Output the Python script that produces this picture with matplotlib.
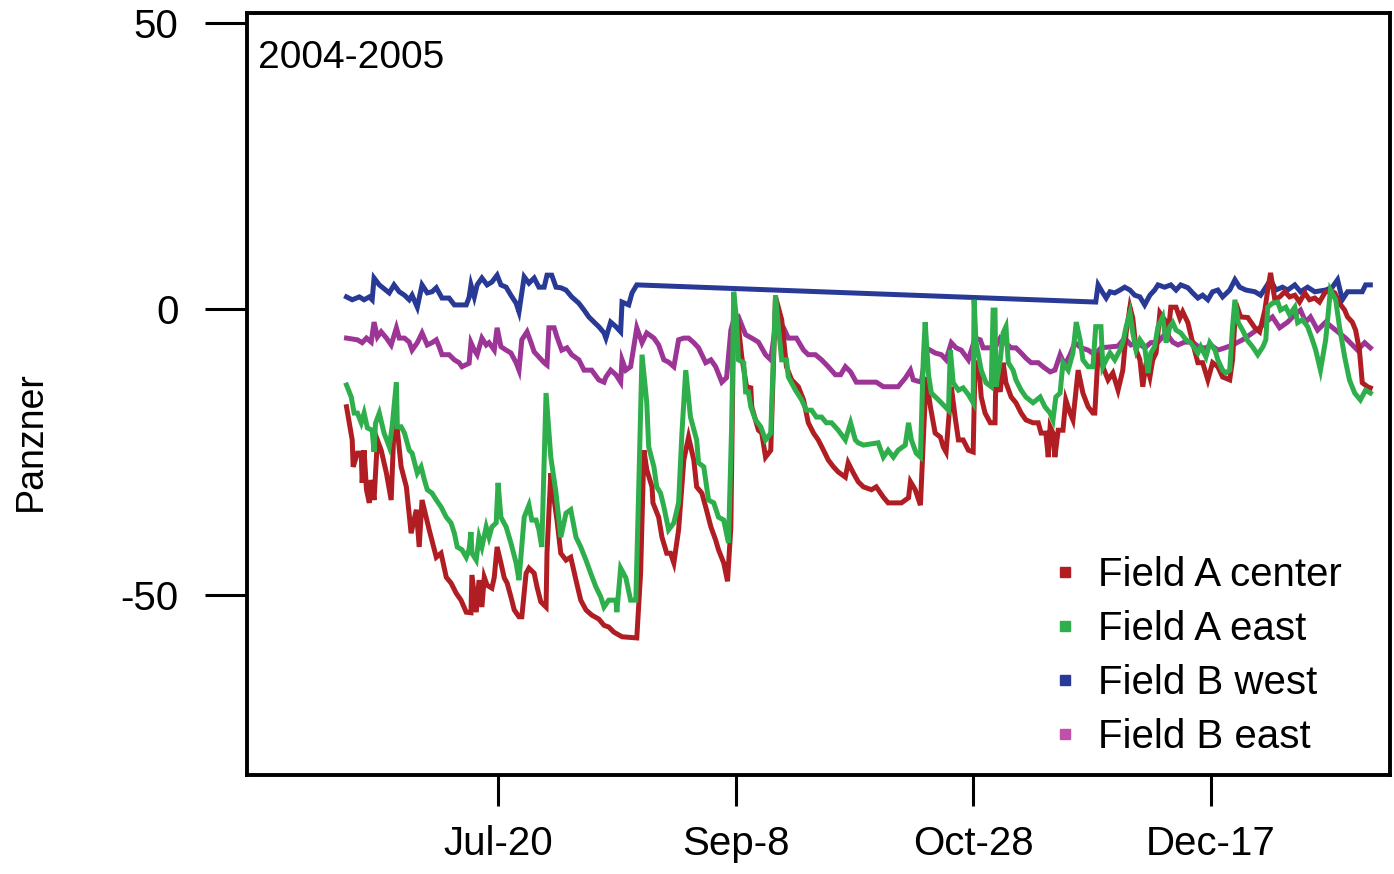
import numpy as np
import matplotlib
matplotlib.use("Agg")
import matplotlib.pyplot as plt
from matplotlib.lines import Line2D

plt.rcParams['font.family'] = ['Liberation Sans', 'DejaVu Sans']

# days counted from Jul-20 (2004)
tick_days = [0, 50, 100, 150]
tick_labels = ["Jul-20", "Sep-8", "Oct-28", "Dec-17"]
y_ticks = [-50, 0, 50]
names = ["Field A center", "Field A east", "Field B west", "Field B east"]
colors = ["#B01E23", "#2EAF4B", "#283A96", "#9C3596"]
legend_colors = ["#B01E23", "#2EAF4B", "#283A96", "#C050A8"]

field_a_center = [
    (-31.9, -17.1), (-30.7, -22.9), (-30.5, -27.6), (-29.6, -25.2), (-28.8, -25.2), (-28.6, -30.4),
    (-28.2, -24.7), (-27.7, -31.6), (-27.1, -33.9), (-26.7, -29.9), (-26.1, -33.4), (-25.4, -22.9),
    (-24.6, -24.7), (-23.5, -28.7), (-22.5, -33.4), (-21.9, -20.6), (-21.2, -21.2), (-20.4, -27.6),
    (-19.3, -31.1), (-18.3, -39.2), (-17.2, -35.1), (-16.6, -41.6), (-16.0, -33.4), (-14.5, -38.6),
    (-13.0, -43.4), (-12.0, -42.7), (-10.9, -46.9), (-9.9, -47.9), (-8.8, -49.7), (-7.8, -50.9),
    (-6.7, -53.0), (-5.7, -53.1), (-5.5, -46.5), (-4.6, -53.0), (-4.0, -47.4), (-3.4, -52.1),
    (-2.9, -46.9), (-2.3, -48.3), (-1.3, -48.8), (-0.8, -46.9), (-0.2, -41.6), (0.6, -44.4),
    (1.3, -47.0), (1.9, -47.9), (2.7, -50.3), (3.4, -52.6), (4.4, -53.8), (5.0, -53.8),
    (5.9, -46.2), (6.5, -45.3), (7.6, -46.2), (8.2, -48.6), (9.0, -51.2), (10.1, -52.1),
    (10.3, -42.7), (11.1, -28.7), (11.8, -33.4), (12.4, -36.9), (13.2, -42.7), (14.3, -43.9),
    (15.3, -43.4), (16.4, -47.4), (17.4, -50.9), (18.5, -52.6), (19.7, -53.5), (21.2, -54.2),
    (22.3, -55.3), (23.3, -55.6), (24.4, -56.5), (26.1, -57.3), (29.2, -57.5), (30.0, -46.2),
    (30.7, -24.7), (31.3, -28.1), (32.4, -31.1), (32.6, -33.9), (33.8, -36.4), (34.5, -39.9),
    (35.5, -42.7), (36.3, -42.7), (37.0, -44.4), (38.0, -38.6), (39.1, -26.4), (40.1, -22.4),
    (41.2, -26.4), (41.8, -31.1), (42.9, -32.2), (43.7, -34.6), (44.8, -38.1), (45.8, -40.4),
    (46.4, -42.1), (47.5, -44.4), (48.3, -47.6), (49.0, -38.1), (49.6, 0.3), (50.6, -3.1),
    (51.3, -8.4), (52.3, -13.6), (53.2, -13.8), (53.4, -17.1), (54.8, -21.2), (55.5, -21.7),
    (56.3, -25.9), (57.4, -24.7), (58.4, 2.1), (59.7, -1.9), (60.7, -10.1), (61.8, -12.4),
    (63.2, -13.6), (64.3, -15.9), (65.3, -19.9), (66.4, -21.7), (67.4, -22.9), (68.5, -24.7),
    (69.5, -26.4), (70.6, -27.6), (71.6, -28.5), (73.1, -29.4), (73.7, -26.9), (74.8, -28.7),
    (75.8, -30.2), (76.9, -31.1), (78.6, -31.6), (79.6, -31.1), (81.1, -32.9), (82.1, -33.9),
    (84.9, -33.9), (86.4, -33.0), (86.8, -30.2), (87.8, -31.6), (88.9, -34.3), (90.1, -11.9),
    (91.0, -17.1), (92.0, -21.7), (93.1, -22.4), (93.7, -24.1), (94.3, -25.0), (95.4, -13.6),
    (96.2, -18.9), (96.9, -22.9), (97.9, -22.9), (99.0, -24.7), (100.0, -25.0), (100.4, -9.4),
    (101.1, -9.4), (101.7, -15.4), (102.5, -18.2), (103.6, -19.9), (104.6, -19.9), (104.8, -11.2),
    (105.7, -14.5), (106.3, -9.4), (106.9, -12.9), (108.0, -15.4), (109.0, -16.4), (110.1, -18.2),
    (111.1, -19.4), (112.6, -19.9), (113.7, -19.9), (114.3, -21.7), (115.3, -21.7), (115.8, -25.9),
    (116.2, -20.6), (116.8, -21.7), (117.2, -25.9), (117.9, -21.2), (118.9, -21.2), (119.5, -15.9),
    (120.4, -18.2), (121.0, -19.4), (122.1, -10.7), (123.1, -14.7), (124.2, -17.1), (125.2, -18.2),
    (125.6, -18.2), (126.3, -7.7), (127.3, -10.1), (128.4, -12.4), (129.4, -11.2), (130.5, -14.2),
    (131.5, -10.7), (132.2, -4.2), (133.0, 0.3), (133.6, -1.6), (134.3, -7.2), (135.1, -8.9),
    (135.7, -13.6), (136.4, -9.4), (137.2, -11.9), (137.8, -8.9), (138.5, -7.7), (139.3, -0.7),
    (140.3, -1.9), (141.0, -4.9), (141.6, 0.3), (142.7, 0.3), (143.5, -1.6), (144.1, -0.5),
    (145.2, -2.4), (146.2, -5.9), (147.3, -9.4), (148.3, -9.4), (149.4, -12.4), (150.4, -9.4),
    (151.5, -10.1), (152.5, -11.9), (154.0, -12.4), (154.6, -8.9), (155.3, 1.0), (156.3, -1.4),
    (157.8, -1.5), (159.3, -3.3), (160.3, -4.0), (161.4, -0.2), (162.0, 3.3), (162.6, 6.3),
    (163.5, 1.6), (164.5, 2.1), (165.6, 3.0), (166.6, 2.1), (167.7, 2.4), (168.7, 1.2),
    (169.8, 2.8), (170.8, 1.6), (171.9, 1.9), (172.9, 1.2), (174.0, 2.8), (175.0, 3.3),
    (176.1, 2.8), (177.1, 1.0), (178.2, -0.2), (178.8, -1.4), (179.8, -2.3), (180.5, -3.7),
    (181.3, -7.2), (181.9, -12.9), (183.0, -13.6), (183.6, -13.8),
]

field_a_east = [
    (-31.9, -13.3), (-30.9, -15.4), (-30.3, -18.2), (-29.6, -18.2), (-28.8, -19.9), (-28.2, -18.2),
    (-27.5, -20.8), (-26.5, -21.2), (-26.1, -25.0), (-25.8, -20.0), (-25.0, -18.2), (-24.0, -21.7),
    (-22.9, -24.1), (-22.3, -20.6), (-21.4, -12.8), (-21.2, -20.6), (-20.4, -20.6), (-19.7, -21.7),
    (-18.7, -24.7), (-18.1, -25.2), (-17.0, -28.7), (-16.2, -27.6), (-15.5, -29.9), (-14.9, -31.6),
    (-13.9, -32.2), (-13.0, -33.4), (-12.0, -34.6), (-10.9, -36.4), (-9.9, -37.4), (-9.2, -39.2),
    (-8.6, -41.6), (-7.6, -42.1), (-6.7, -43.4), (-6.1, -42.0), (-5.7, -39.0), (-5.5, -42.7),
    (-4.6, -43.9), (-4.0, -39.9), (-3.4, -41.6), (-2.5, -38.1), (-1.9, -39.9), (-1.3, -38.1),
    (-0.4, -37.4), (0.0, -30.4), (0.6, -36.4), (1.7, -38.1), (2.7, -40.9), (3.8, -44.4),
    (4.4, -47.4), (5.5, -36.4), (6.5, -34.3), (7.1, -36.9), (8.0, -36.9), (8.6, -38.6),
    (9.2, -41.6), (10.1, -14.7), (11.1, -25.9), (12.2, -32.2), (13.2, -39.9), (14.3, -35.7),
    (15.3, -35.1), (16.4, -39.9), (17.4, -41.6), (18.5, -43.9), (19.5, -46.2), (20.6, -48.6),
    (21.6, -50.3), (22.3, -52.1), (23.3, -50.9), (24.8, -50.9), (25.0, -53.0), (25.8, -45.3),
    (26.9, -47.0), (27.9, -50.9), (29.0, -50.9), (29.6, -31.6), (30.3, -8.0), (31.3, -16.4),
    (31.7, -24.1), (32.8, -27.6), (33.4, -31.1), (34.2, -32.2), (34.9, -34.6), (35.9, -38.6),
    (37.0, -37.4), (38.0, -33.9), (38.7, -21.7), (39.5, -10.7), (40.5, -18.9), (41.8, -22.9),
    (42.2, -26.9), (43.3, -27.6), (43.7, -29.9), (44.3, -33.4), (45.4, -33.9), (46.4, -36.4),
    (47.5, -36.9), (48.5, -40.9), (49.2, -19.4), (49.6, 3.0), (50.2, -1.9), (50.6, -8.9),
    (51.7, -9.4), (52.1, -14.5), (52.7, -14.5), (53.2, -17.1), (54.2, -19.4), (55.3, -20.6),
    (56.3, -22.9), (57.4, -21.7), (58.4, 2.4), (59.0, -3.1), (59.7, -8.9), (60.7, -8.9),
    (61.1, -11.9), (62.6, -14.2), (63.9, -15.9), (64.9, -17.7), (66.0, -17.7), (67.0, -18.9),
    (68.1, -18.9), (69.1, -19.9), (70.2, -19.9), (71.6, -21.2), (73.1, -22.9), (74.2, -19.9),
    (75.2, -22.9), (75.8, -23.4), (76.9, -23.8), (80.0, -23.4), (81.1, -25.9), (82.1, -24.7),
    (83.2, -25.9), (84.2, -24.7), (85.7, -23.8), (86.4, -19.9), (87.0, -22.9), (88.0, -25.2),
    (88.9, -25.9), (89.5, -8.9), (89.9, -2.3), (90.6, -11.5), (91.2, -14.7), (92.7, -15.9),
    (94.1, -17.1), (94.8, -17.7), (95.2, -7.2), (95.8, -12.9), (96.9, -14.2), (97.9, -13.8),
    (99.0, -15.0), (100.0, -16.4), (100.2, 1.6), (100.6, -5.9), (101.7, -10.7), (102.7, -12.9),
    (103.8, -13.6), (104.2, -0.2), (104.6, -0.2), (104.8, -13.6), (105.7, -8.9), (106.3, -4.2),
    (106.9, -3.1), (107.4, -9.4), (108.4, -10.7), (109.0, -12.4), (110.1, -14.2), (111.1, -15.4),
    (112.6, -16.4), (114.1, -15.4), (115.1, -17.1), (116.2, -18.2), (116.8, -19.4), (117.4, -15.4),
    (118.3, -14.7), (118.9, -9.4), (120.0, -10.7), (121.0, -7.7), (121.7, -2.3), (122.5, -5.4),
    (123.1, -8.9), (124.2, -10.1), (125.2, -10.1), (125.8, -3.1), (126.9, -3.1), (127.3, -10.1),
    (128.0, -8.9), (128.8, -7.7), (129.8, -8.9), (130.9, -7.2), (131.5, -5.9), (132.2, -3.1),
    (133.0, -0.7), (133.6, -4.2), (134.3, -7.2), (135.1, -5.4), (136.1, -6.6), (136.8, -11.2),
    (137.4, -7.7), (138.2, -6.6), (138.9, -3.1), (139.9, -1.4), (140.6, -5.9), (141.4, -3.1),
    (142.0, -2.4), (142.7, -3.7), (143.7, -4.2), (144.8, -5.4), (145.8, -5.9), (147.3, -7.7),
    (147.9, -6.6), (149.0, -8.4), (149.8, -5.9), (150.9, -7.2), (151.5, -8.9), (152.5, -10.7),
    (153.2, -11.2), (154.0, -10.7), (154.6, -3.1), (155.1, 1.6), (155.8, -2.4), (156.7, -3.7),
    (157.8, -5.6), (158.8, -6.6), (159.9, -8.0), (161.0, -6.6), (161.6, -5.4), (162.0, 0.3),
    (163.0, 1.0), (164.1, 1.2), (164.7, -0.2), (165.8, 0.3), (166.6, -1.0), (167.7, 0.3),
    (168.3, -2.4), (169.3, -1.9), (170.4, -3.1), (171.4, -5.4), (172.1, -7.2), (173.1, -10.7),
    (174.2, -5.4), (175.2, 3.3), (176.3, 1.6), (177.1, -3.1), (178.2, -8.4), (179.2, -12.4),
    (180.3, -14.7), (181.5, -15.9), (182.6, -14.2), (183.6, -14.7),
]

field_b_west = [
    (-31.9, 2.1), (-30.7, 1.6), (-29.2, 2.1), (-28.2, 1.6), (-27.1, 2.1), (-26.5, 1.6),
    (-26.1, 5.4), (-25.0, 4.2), (-22.9, 2.8), (-21.9, 4.2), (-20.8, 3.0), (-19.7, 2.4),
    (-18.7, 1.6), (-18.1, 2.4), (-17.0, 0.3), (-16.0, 4.2), (-14.9, 2.8), (-13.9, 3.0),
    (-13.0, 3.7), (-12.4, 2.8), (-11.8, 1.9), (-10.3, 1.9), (-9.2, 0.7), (-6.7, 0.7),
    (-6.1, 2.0), (-5.7, 4.2), (-5.0, 2.1), (-4.4, 4.2), (-3.4, 5.4), (-2.3, 4.2),
    (-1.3, 4.7), (-0.2, 5.9), (0.6, 4.2), (1.7, 3.8), (2.7, 2.4), (3.8, 1.0),
    (4.4, -0.5), (5.5, 5.6), (6.5, 4.5), (7.6, 5.4), (8.6, 3.8), (9.7, 3.8),
    (10.3, 5.9), (11.3, 5.9), (12.2, 3.8), (13.2, 3.7), (14.3, 3.3), (15.5, 2.1),
    (17.0, 1.0), (18.1, -0.2), (19.1, -1.4), (20.2, -2.3), (21.2, -3.1), (22.3, -4.2),
    (22.7, -5.1), (23.7, -2.3), (24.8, -3.1), (25.8, -4.0), (26.1, 1.2), (27.5, 0.7),
    (28.2, 2.8), (29.2, 4.2), (125.8, 1.2), (126.3, 4.2), (127.3, 2.8), (128.0, 1.9),
    (128.8, 3.0), (129.8, 2.8), (130.9, 3.3), (131.9, 3.8), (133.0, 3.3), (134.0, 2.4),
    (135.1, 2.1), (136.1, 0.7), (137.2, 2.4), (138.2, 3.3), (138.9, 4.2), (140.3, 3.8),
    (141.6, 4.2), (142.7, 3.3), (143.7, 4.2), (145.2, 3.7), (146.2, 2.8), (147.3, 1.9),
    (148.3, 2.4), (149.4, 1.6), (150.4, 3.0), (151.5, 3.3), (152.5, 2.1), (154.0, 3.3),
    (155.1, 5.1), (156.1, 3.8), (157.4, 3.3), (159.3, 3.0), (160.5, 2.4), (161.6, 3.8),
    (162.6, 5.1), (163.7, 3.3), (165.1, 3.8), (166.2, 3.3), (167.7, 4.2), (168.9, 3.0),
    (170.4, 3.8), (171.9, 3.0), (174.2, 3.3), (175.6, 3.8), (176.7, 5.1), (177.7, 1.6),
    (178.8, 3.0), (181.9, 3.0), (182.6, 4.2), (183.6, 4.2),
]

field_b_east = [
    (-31.9, -5.1), (-29.6, -5.4), (-28.6, -5.9), (-27.7, -5.1), (-26.7, -5.8), (-26.1, -2.3),
    (-25.4, -4.9), (-24.6, -4.0), (-23.5, -5.1), (-22.5, -6.3), (-21.4, -3.3), (-20.8, -5.1),
    (-19.7, -5.1), (-18.7, -5.8), (-18.1, -7.2), (-17.0, -5.9), (-16.0, -4.2), (-14.9, -6.3),
    (-13.9, -5.9), (-13.0, -5.4), (-12.4, -6.6), (-11.8, -8.0), (-10.3, -8.0), (-9.2, -8.9),
    (-8.2, -9.4), (-7.6, -10.1), (-6.1, -9.5), (-5.7, -5.9), (-5.0, -7.2), (-4.4, -8.0),
    (-3.4, -5.1), (-2.5, -6.3), (-1.9, -5.9), (-0.8, -7.2), (-0.2, -3.3), (0.6, -6.6),
    (1.7, -7.2), (2.7, -7.7), (3.8, -9.4), (4.4, -10.7), (5.0, -5.4), (6.1, -4.0),
    (6.9, -5.8), (7.6, -7.5), (8.6, -8.4), (9.7, -9.4), (10.3, -9.8), (10.7, -3.3),
    (11.8, -3.3), (12.4, -4.9), (13.4, -7.2), (14.5, -6.8), (15.5, -8.0), (17.0, -8.9),
    (18.1, -10.7), (19.7, -10.7), (21.2, -12.4), (22.3, -12.8), (22.7, -11.9), (23.7, -10.7),
    (24.8, -11.5), (25.8, -12.8), (26.1, -8.9), (26.9, -10.7), (27.9, -10.1), (29.2, -3.3),
    (30.3, -5.9), (31.3, -4.2), (32.8, -5.1), (33.8, -6.3), (34.9, -8.9), (35.9, -9.3),
    (37.0, -10.1), (38.0, -5.4), (39.1, -5.1), (40.1, -5.1), (41.2, -5.9), (42.2, -6.8),
    (43.7, -9.4), (44.8, -8.9), (45.8, -10.1), (47.1, -12.8), (48.1, -12.0), (49.0, -3.7),
    (49.6, -1.9), (50.6, -1.4), (52.1, -4.5), (53.4, -5.1), (54.8, -5.8), (56.3, -8.0),
    (57.4, -8.9), (58.6, -1.6), (60.1, -3.3), (61.1, -5.1), (62.8, -5.1), (64.3, -7.2),
    (65.3, -8.0), (66.8, -8.0), (68.1, -8.9), (69.5, -10.1), (71.0, -11.5), (72.1, -11.5),
    (73.1, -10.1), (74.2, -11.0), (75.4, -12.8), (79.6, -12.8), (81.1, -13.6), (84.2, -13.6),
    (85.7, -12.1), (86.8, -10.7), (87.4, -12.4), (89.1, -12.8), (90.1, -6.8), (92.0, -7.7),
    (93.3, -8.0), (94.3, -8.9), (95.4, -5.9), (96.4, -6.8), (97.5, -7.2), (99.0, -8.9),
    (100.4, -5.1), (101.5, -5.4), (102.1, -6.8), (104.6, -6.8), (105.7, -5.1), (106.7, -5.9),
    (108.0, -6.8), (109.0, -6.8), (110.1, -7.7), (111.1, -8.6), (112.2, -9.4), (113.7, -9.4),
    (114.7, -10.1), (116.2, -11.0), (117.2, -10.7), (118.3, -8.0), (119.3, -9.8), (120.4, -8.0),
    (121.4, -5.9), (122.7, -6.8), (124.2, -7.2), (125.6, -8.0), (126.9, -6.8), (130.5, -6.5),
    (131.9, -5.1), (133.2, -6.3), (134.7, -5.9), (136.1, -6.8), (137.4, -5.9), (138.9, -5.8),
    (140.6, -4.2), (142.0, -5.8), (143.1, -6.3), (144.5, -5.8), (146.2, -5.8), (147.7, -6.8),
    (149.0, -6.8), (150.0, -6.3), (151.5, -7.2), (153.0, -6.8), (154.6, -6.3), (156.7, -5.4),
    (158.8, -4.2), (160.3, -3.3), (161.6, -2.3), (163.0, -1.4), (164.5, -3.3), (166.2, -2.3),
    (167.7, -1.0), (168.9, -0.2), (170.0, -2.3), (171.0, -1.4), (172.5, -3.7), (174.2, -2.3),
    (176.3, -3.7), (178.4, -5.1), (180.9, -7.2), (182.4, -5.9), (183.6, -6.8),
]

series = [field_a_center, field_a_east, field_b_west, field_b_east]

fig = plt.figure(figsize=(13.94, 8.74), dpi=100)
ax = fig.add_axes([0.177, 0.113, 0.820, 0.872])

# drawing order: blue & purple under, red then green on top
for idx in [2, 3, 0, 1]:
    d, v = np.array(series[idx]).T
    ax.plot(d, v, color=colors[idx], lw=3.6, solid_joinstyle='miter')

ax.set_xlim(-52.9, 187.7)
ax.set_ylim(-81.5, 51.7)
ax.set_xticks(tick_days)
ax.set_xticklabels(tick_labels)
ax.set_yticks(y_ticks)
ax.set_yticklabels([str(t) for t in y_ticks])

for s in ax.spines.values():
    s.set_linewidth(2.8)
ax.tick_params(axis='x', direction='out', length=22, width=2.2, pad=14, labelsize=29)
ax.tick_params(axis='y', direction='out', length=30, width=2.2, pad=19, labelsize=29)

ax.text(0.01, 0.965, "2004-2005", transform=ax.transAxes, fontsize=28, va='top', ha='left')
fig.text(0.022, 0.495, "Panzner", rotation=90, fontsize=27, va='center', ha='center')

handles = [Line2D([], [], marker='s', linestyle='none', markersize=7,
                  markerfacecolor=c, markeredgecolor=c) for c in legend_colors]
ax.legend(handles, names, loc='upper left', bbox_to_anchor=(0.702, 0.288),
          frameon=False, fontsize=29, handlelength=0.8, handletextpad=0.4,
          borderpad=0, borderaxespad=0, labelspacing=0.4)

fig.savefig("out.png", dpi=100)
